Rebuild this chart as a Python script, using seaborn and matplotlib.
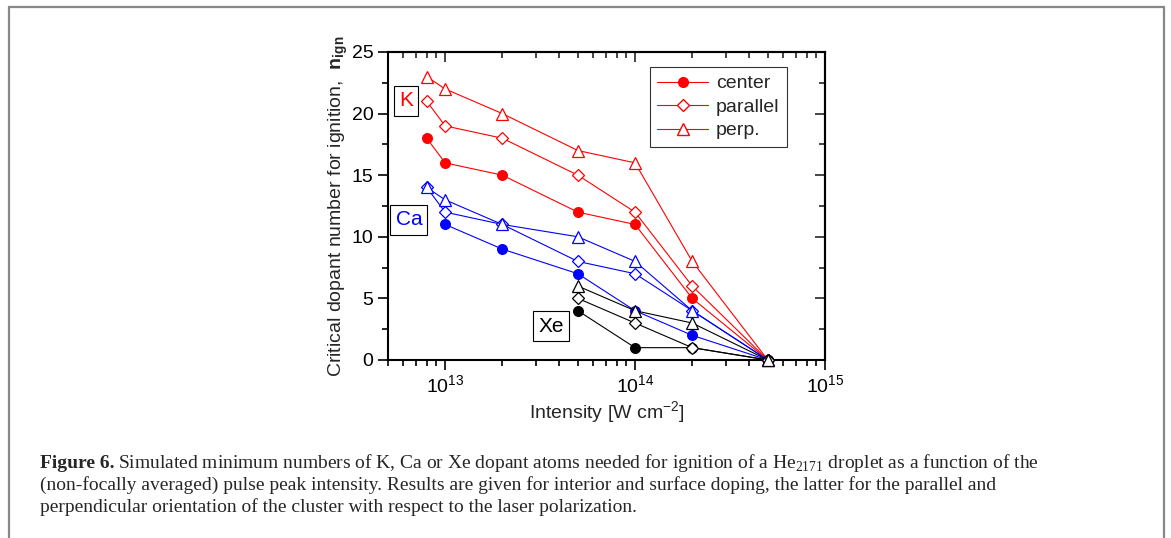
import matplotlib
matplotlib.use("Agg")
from matplotlib import pyplot as plt
from matplotlib.lines import Line2D
from matplotlib.ticker import LogLocator, MultipleLocator, NullFormatter
import seaborn as sns

# intensities in W cm^-2
intensity = [8e12, 1e13, 2e13, 5e13, 1e14, 2e14, 5e14]
intensity_ca_center = [1e13, 2e13, 5e13, 1e14, 2e14, 5e14]
intensity_xe = [5e13, 1e14, 2e14, 5e14]

k_center = [18, 16, 15, 12, 11, 5, 0]
k_parallel = [21, 19, 18, 15, 12, 6, 0]
k_perp = [23, 22, 20, 17, 16, 8, 0]

ca_center = [11, 9, 7, 4, 2, 0]
ca_parallel = [14, 12, 11, 8, 7, 4, 0]
ca_perp = [14, 13, 11, 10, 8, 4, 0]

xe_center = [4, 1, 1, 0]
xe_parallel = [5, 3, 1, 0]
xe_perp = [6, 4, 3, 0]

legend_labels = ["center", "parallel", "perp."]

sns.set_style("ticks")
plt.rcParams["font.family"] = ["Liberation Sans", "DejaVu Sans"]
plt.rcParams["mathtext.fontset"] = "custom"
plt.rcParams["mathtext.rm"] = "Liberation Serif"
plt.rcParams["mathtext.bf"] = "Liberation Sans:bold"
plt.rcParams["mathtext.sf"] = "Liberation Sans"

fig = plt.figure(figsize=(11.71, 5.38), dpi=100)
ax = fig.add_axes([0.3313, 0.3309, 0.3732, 0.5725])

styles = {"center": dict(marker="o", ms=7, mfc=None),
          "parallel": dict(marker="D", ms=6, mfc="white"),
          "perp.": dict(marker="^", ms=8, mfc="white")}

series = [
    ("red", intensity, k_center, "center"),
    ("red", intensity, k_parallel, "parallel"),
    ("red", intensity, k_perp, "perp."),
    ("blue", intensity_ca_center, ca_center, "center"),
    ("blue", intensity, ca_parallel, "parallel"),
    ("blue", intensity, ca_perp, "perp."),
    ("black", intensity_xe, xe_center, "center"),
    ("black", intensity_xe, xe_parallel, "parallel"),
    ("black", intensity_xe, xe_perp, "perp."),
]

for color, xs, ys, kind in series:
    st = styles[kind]
    sns.lineplot(x=xs, y=ys, ax=ax, color=color, linewidth=0.8,
                 marker=st["marker"], markersize=st["ms"],
                 markerfacecolor=st["mfc"] or color, markeredgecolor=color,
                 markeredgewidth=0.9, clip_on=False, zorder=3)

ax.set_xscale("log")
ax.set_xlim(5e12, 1e15)
ax.set_ylim(0, 25)
ax.xaxis.set_major_locator(LogLocator(base=10))
ax.xaxis.set_minor_locator(LogLocator(base=10, subs=range(2, 10)))
ax.xaxis.set_minor_formatter(NullFormatter())
ax.yaxis.set_major_locator(MultipleLocator(5))
ax.yaxis.set_minor_locator(MultipleLocator(2.5))
ax.tick_params(which="both", direction="out", labelsize=14, width=1.2, colors="black")
ax.tick_params(which="major", length=7)
ax.tick_params(which="minor", length=4)
for sp in ax.spines.values():
    sp.set_linewidth(1.5)
    sp.set_color("black")

# inward ticks on top and right
top = ax.secondary_xaxis("top")
top.xaxis.set_major_locator(LogLocator(base=10))
top.xaxis.set_minor_locator(LogLocator(base=10, subs=range(2, 10)))
top.tick_params(which="both", direction="in", labeltop=False, width=1.2)
top.tick_params(which="major", length=7)
top.tick_params(which="minor", length=4)
right = ax.secondary_yaxis("right")
right.yaxis.set_major_locator(MultipleLocator(5))
right.yaxis.set_minor_locator(MultipleLocator(2.5))
right.tick_params(which="both", direction="in", labelright=False, width=1.2)
right.tick_params(which="major", length=7)
right.tick_params(which="minor", length=4)
for sa in (top, right):
    for sp in sa.spines.values():
        sp.set_linewidth(1.5)

ax.set_xlabel(r"Intensity [W cm$^{\mathsf{-2}}$]", fontsize=14, labelpad=2)
ax.set_ylabel(r"Critical dopant number for ignition,  $\mathbf{n}_{\mathbf{ign}}$",
              fontsize=14, labelpad=1.5)

box = dict(boxstyle="square,pad=0.25", fc="white", ec="black", lw=0.8)
ax.text(0.041, 0.841, "K", color="red", fontsize=15, transform=ax.transAxes,
        ha="center", va="center", bbox=box)
ax.text(0.048, 0.455, "Ca", color="blue", fontsize=15, transform=ax.transAxes,
        ha="center", va="center", bbox=box)
ax.text(0.373, 0.110, "Xe", color="black", fontsize=15, transform=ax.transAxes,
        ha="center", va="center", bbox=box)

handles = [Line2D([], [], color="red", lw=0.8, marker=styles[k]["marker"],
                  ms=styles[k]["ms"], mfc=styles[k]["mfc"] or "red", mec="red")
           for k in legend_labels]
leg = ax.legend(handles, legend_labels, loc="upper right", bbox_to_anchor=(0.913, 0.951),
                fontsize=14, frameon=True, fancybox=False, edgecolor="black",
                handlelength=2.6, borderpad=0.4, labelspacing=0.3, handletextpad=0.4,
                borderaxespad=0)
leg.get_frame().set_linewidth(0.8)

# caption
cap_kw = dict(fontsize=14, family="Liberation Serif", ha="left", va="center")
head = fig.text(0.034, 1 - 463 / 538, "Figure 6.", fontweight="bold", **cap_kw)
renderer = fig.canvas.get_renderer()
head_end = head.get_window_extent(renderer).x1 / fig.bbox.width
fig.text(head_end + 0.003, 1 - 463 / 538,
         r"Simulated minimum numbers of K, Ca or Xe dopant atoms needed for ignition of a He$_{2171}$ "
         r"droplet as a function of the", **cap_kw)
fig.text(0.034, 1 - 485 / 538,
         "(non-focally averaged) pulse peak intensity. Results are given for interior and surface "
         "doping, the latter for the parallel and", **cap_kw)
fig.text(0.034, 1 - 507 / 538,
         "perpendicular orientation of the cluster with respect to the laser polarization.", **cap_kw)

# outer frame
frame_kw = dict(color="#888888", lw=1.6, transform=fig.transFigure)
fig.add_artist(Line2D([8.5 / 1171, 1164 / 1171], [1 - 6.5 / 538, 1 - 6.5 / 538], **frame_kw))
fig.add_artist(Line2D([8.5 / 1171, 8.5 / 1171], [0, 1 - 6.5 / 538], **frame_kw))
fig.add_artist(Line2D([1164 / 1171, 1164 / 1171], [0, 1 - 6.5 / 538], **frame_kw))

fig.savefig("out.png", dpi=100)
